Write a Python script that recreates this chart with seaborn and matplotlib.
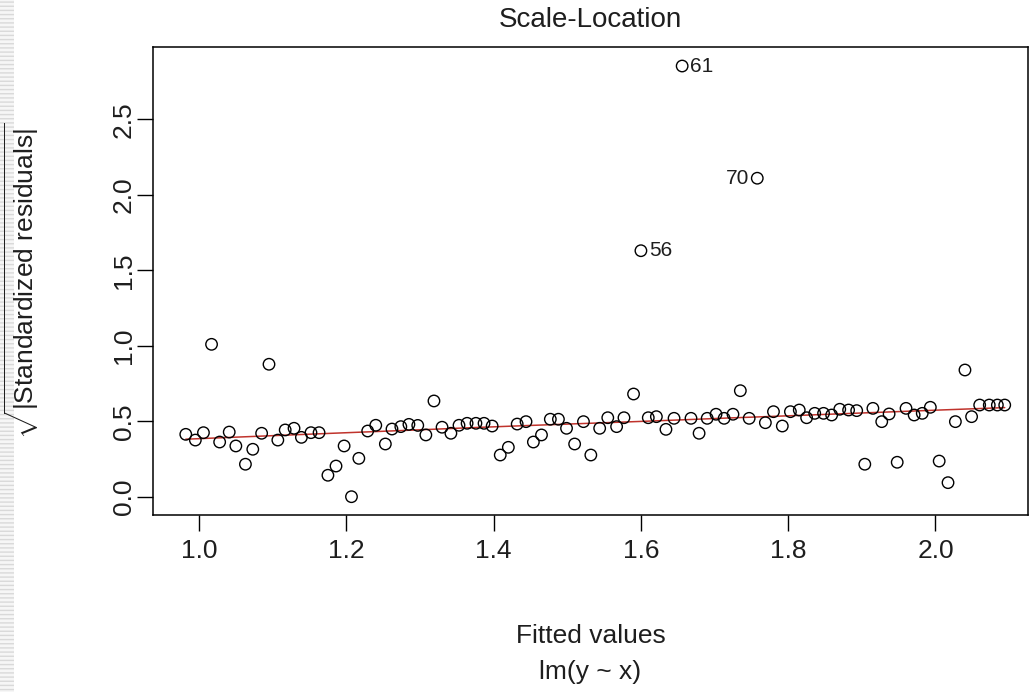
import numpy as np
import pandas as pd
import matplotlib
matplotlib.use("Agg")
import matplotlib.pyplot as plt
from matplotlib.patches import Rectangle
import seaborn as sns

# Fitted values of lm(y ~ x), in observation order
fitted = [
    0.982, 0.995, 1.006, 1.017, 1.028, 1.041, 1.050, 1.063, 1.073, 1.085,
    1.095, 1.107, 1.117, 1.129, 1.139, 1.152, 1.163, 1.175, 1.186, 1.197,
    1.207, 1.217, 1.229, 1.240, 1.253, 1.262, 1.274, 1.285, 1.297, 1.308,
    1.319, 1.330, 1.342, 1.353, 1.364, 1.376, 1.387, 1.398, 1.409, 1.420,
    1.432, 1.444, 1.454, 1.465, 1.477, 1.488, 1.499, 1.510, 1.522, 1.532,
    1.544, 1.555, 1.567, 1.577, 1.590, 1.600, 1.610, 1.621, 1.634, 1.645,
    1.656, 1.668, 1.679, 1.690, 1.702, 1.713, 1.725, 1.735, 1.747, 1.758,
    1.769, 1.780, 1.792, 1.803, 1.815, 1.825, 1.836, 1.848, 1.859, 1.870,
    1.882, 1.893, 1.904, 1.915, 1.927, 1.937, 1.948, 1.960, 1.971, 1.982,
    1.993, 2.005, 2.017, 2.027, 2.040, 2.049, 2.060, 2.073, 2.084, 2.094,
]

# sqrt(|standardized residuals|)
sqrt_abs_resid = [
    0.415, 0.377, 0.426, 1.011, 0.364, 0.430, 0.338, 0.217, 0.316, 0.422,
    0.879, 0.377, 0.444, 0.455, 0.395, 0.426, 0.426, 0.144, 0.205, 0.338,
    0.002, 0.256, 0.437, 0.475, 0.351, 0.450, 0.466, 0.481, 0.474, 0.411,
    0.636, 0.462, 0.422, 0.475, 0.488, 0.488, 0.488, 0.470, 0.278, 0.329,
    0.483, 0.499, 0.364, 0.411, 0.515, 0.515, 0.455, 0.351, 0.499, 0.278,
    0.455, 0.525, 0.466, 0.525, 0.682, 1.631, 0.525, 0.532, 0.448, 0.521,
    2.854, 0.521, 0.422, 0.521, 0.548, 0.521, 0.548, 0.704, 0.521, 2.111,
    0.492, 0.565, 0.470, 0.565, 0.576, 0.525, 0.554, 0.554, 0.543, 0.581,
    0.576, 0.572, 0.217, 0.587, 0.499, 0.550, 0.230, 0.587, 0.543, 0.554,
    0.594, 0.238, 0.095, 0.499, 0.841, 0.532, 0.609, 0.609, 0.609, 0.609,
]

# Observations flagged with their index, and which side the label sits on
flagged_ids = [56, 61, 70]
flagged_side = ["right", "right", "left"]

x_ticks = [1.0, 1.2, 1.4, 1.6, 1.8, 2.0]
y_ticks = [0.0, 0.5, 1.0, 1.5, 2.0, 2.5]


def lowess(x, y, f=2 / 3, iters=3):
    """Cleveland's robust locally weighted regression (as R's lowess)."""
    x = np.asarray(x, float)
    y = np.asarray(y, float)
    n = len(x)
    ns = max(min(int(round(f * n)), n), 2)
    dist = np.abs(x[:, None] - x[None, :])
    h = np.sort(dist, axis=1)[:, ns - 1]
    u = np.clip(dist / h[:, None], 0.0, 1.0)
    w = (1 - u ** 3) ** 3
    robust = np.ones(n)
    fit = np.zeros(n)
    for _ in range(iters + 1):
        for i in range(n):
            wi = w[i] * robust
            sw = wi.sum()
            xm = (wi * x).sum() / sw
            ym = (wi * y).sum() / sw
            sxx = (wi * (x - xm) ** 2).sum()
            b = (wi * (x - xm) * (y - ym)).sum() / sxx if sxx > 0 else 0.0
            fit[i] = ym + b * (x[i] - xm)
        res = y - fit
        s = np.median(np.abs(res))
        if s == 0:
            break
        r = np.clip(res / (6 * s), -1, 1)
        robust = (1 - r ** 2) ** 2
    return fit


df = pd.DataFrame({"fitted": fitted, "scale": sqrt_abs_resid})
df["obs"] = np.arange(1, len(df) + 1)
df["smooth"] = lowess(df["fitted"], df["scale"])

sns.set_theme(style="white")
plt.rcParams["font.family"] = ["Liberation Sans", "DejaVu Sans"]
plt.rcParams["mathtext.fontset"] = "custom"
plt.rcParams["mathtext.rm"] = "Liberation Sans"
plt.rcParams["mathtext.it"] = "Liberation Sans"
plt.rcParams["hatch.linewidth"] = 1.0

FS = 19
TXT = "#1e1e1e"
W, H = 1031, 692
fig = plt.figure(figsize=(W / 100, H / 100), dpi=100)
fig.patch.set_facecolor("white")

# striped strip on the far left edge
fig.add_artist(Rectangle((0, 0), 14 / W, 1, transform=fig.transFigure,
                         facecolor="#f6f6f6", edgecolor="#d9d9d9",
                         hatch="----", lw=0, zorder=0))

ax = fig.add_axes([153 / W, 1 - 515 / H, (1028 - 153) / W, (515 - 47) / H])

sns.scatterplot(data=df, x="fitted", y="scale", ax=ax, marker="o",
                s=68, facecolor="none", edgecolor="black", linewidth=1.0,
                legend=False, zorder=3)
sns.lineplot(data=df, x="fitted", y="smooth", ax=ax, sort=True,
             estimator=None, color="#c0332c", linewidth=1.1, zorder=2)

for oid, side in zip(flagged_ids, flagged_side):
    row = df.loc[df["obs"] == oid].iloc[0]
    dx = 6 if side == "right" else -6
    ax.annotate(str(oid), (row["fitted"], row["scale"]),
                xytext=(dx, 0), textcoords="offset points",
                ha="left" if side == "right" else "right", va="center",
                fontsize=15, color=TXT)

ax.set_xlim(0.9375, 2.1256)
ax.set_ylim(-0.1192, 2.980)
ax.set_xticks(x_ticks)
ax.set_xticklabels([f"{t:.1f}" for t in x_ticks], fontsize=FS)
ax.set_yticks(y_ticks)
ax.set_yticklabels([f"{t:.1f}" for t in y_ticks], fontsize=FS,
                   rotation=90, va="center")
ax.tick_params(axis="both", direction="out", length=11.5, width=1.0,
               color="black", labelcolor=TXT, bottom=True, left=True)
ax.tick_params(axis="x", pad=6)
ax.tick_params(axis="y", pad=1)
ax.set_xlabel("")
ax.set_ylabel("")
for sp in ax.spines.values():
    sp.set_visible(True)
    sp.set_color("black")
    sp.set_linewidth(1.1)

cx = (153 + 1028) / 2 / W
fig.text(cx, 1 - 20 / H, "Scale-Location", ha="center", va="center",
         fontsize=20, color=TXT)
fig.text(cx, 1 - 636 / H, "Fitted values", ha="center", va="center",
         fontsize=FS, color=TXT)
fig.text(cx, 1 - 672 / H, "lm(y ~ x)", ha="center", va="center",
         fontsize=FS, color=TXT)
fig.text(22 / W, 1 - 281 / H,
         r"$\sqrt{|\mathrm{Standardized\ residuals}|}$",
         ha="center", va="center", rotation=90, fontsize=FS,
         color=TXT)

fig.savefig("out.png", dpi=100, facecolor="white")
